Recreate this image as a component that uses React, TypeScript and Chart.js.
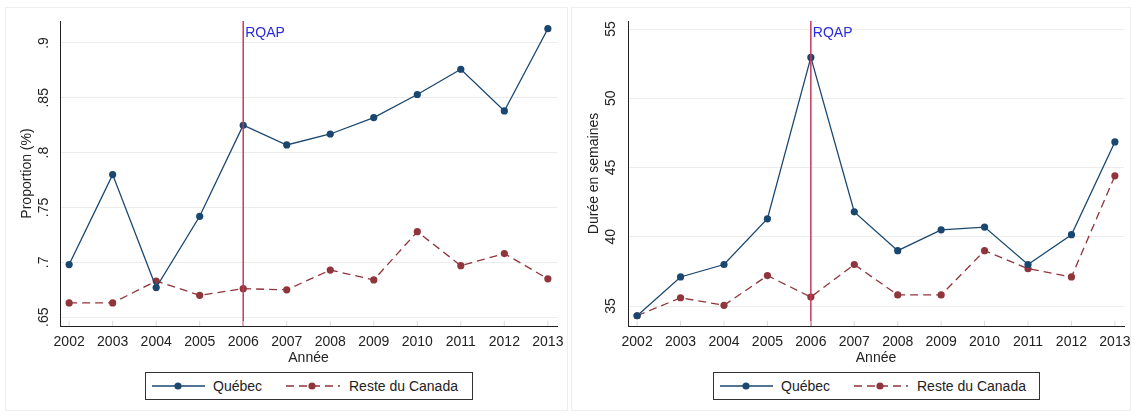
import React, { useEffect, useRef } from "react";
import { Chart, registerables } from "chart.js";

Chart.register(...registerables);

const years = [2002, 2003, 2004, 2005, 2006, 2007, 2008, 2009, 2010, 2011, 2012, 2013];
const quebecProp = [0.698, 0.78, 0.677, 0.742, 0.825, 0.807, 0.817, 0.832, 0.853, 0.876, 0.838, 0.913];
const resteProp = [0.663, 0.663, 0.683, 0.67, 0.676, 0.675, 0.693, 0.684, 0.728, 0.697, 0.708, 0.685];
const quebecDur = [34.3, 37.1, 38.0, 41.3, 52.95, 41.8, 39.0, 40.5, 40.7, 38.0, 40.15, 46.85];
const resteDur = [34.3, 35.6, 35.05, 37.2, 35.65, 38.0, 35.8, 35.8, 39.0, 37.7, 37.1, 44.4];
const propTicks = [0.65, 0.7, 0.75, 0.8, 0.85, 0.9];
const propTickLabels = [".65", ".7", ".75", ".8", ".85", ".9"];
const durTicks = [35, 40, 45, 50, 55];
const durTickLabels = ["35", "40", "45", "50", "55"];
const seriesNames = ["Québec", "Reste du Canada"];
const policyYear = 2006;
const policyLabel = "RQAP";
const xTitle = "Année";

const NAVY = "#1a476f";
const MAROON = "#90353b";
const VLINE = "#c8385a";
const FONT = '"Liberation Sans", Arial, sans-serif';

type PanelProps = {
  left: number;
  width: number;
  q: number[];
  r: number[];
  ticks: number[];
  tickLabels: string[];
  yMin: number;
  yMax: number;
  yTitle: string;
  axisW: number;
  padRight: number;
  tickX: number;
  titleX: number;
  legendLeft: number;
  legendW: number;
};

function Panel(p: PanelProps) {
  const ref = useRef<HTMLCanvasElement>(null);
  const canvasH = 358;
  useEffect(() => {
    const annot = {
      id: "annot",
      afterDraw(chart: any) {
        const ctx = chart.ctx;
        const xs = chart.scales.x;
        const ys = chart.scales.y;
        const area = chart.chartArea;
        ctx.save();
        // vertical policy line
        const vx = xs.getPixelForValue(policyYear);
        ctx.strokeStyle = VLINE;
        ctx.lineWidth = 1.5;
        ctx.beginPath();
        ctx.moveTo(vx, area.top);
        ctx.lineTo(vx, area.bottom);
        ctx.stroke();
        ctx.fillStyle = "#2a2ae0";
        ctx.font = `14px ${FONT}`;
        ctx.textAlign = "left";
        ctx.textBaseline = "middle";
        ctx.fillText(policyLabel, vx + 2, area.top + 12);
        // x ticks and labels
        ctx.fillStyle = "#222";
        ctx.textAlign = "center";
        years.forEach((yv) => {
          const x = xs.getPixelForValue(yv);
          ctx.strokeStyle = "#dcdcdc";
          ctx.lineWidth = 1;
          ctx.beginPath();
          ctx.moveTo(x, area.bottom - 5);
          ctx.lineTo(x, area.bottom);
          ctx.stroke();
          ctx.fillText(String(yv), x, area.bottom + 16);
        });
        ctx.fillText(xTitle, (area.left + area.right) / 2, area.bottom + 32);
        // y tick labels rotated
        p.ticks.forEach((t, i) => {
          const y = ys.getPixelForValue(t);
          ctx.save();
          ctx.translate(p.tickX, y);
          ctx.rotate(-Math.PI / 2);
          ctx.textAlign = "center";
          ctx.textBaseline = "middle";
          ctx.fillText(p.tickLabels[i], 0, 0);
          ctx.restore();
        });
        ctx.save();
        ctx.translate(p.titleX, (area.top + area.bottom) / 2);
        ctx.rotate(-Math.PI / 2);
        ctx.textAlign = "center";
        ctx.textBaseline = "middle";
        ctx.fillText(p.yTitle, 0, 0);
        ctx.restore();
        ctx.restore();
      },
    };
    const chart = new Chart(ref.current as HTMLCanvasElement, {
      type: "line",
      data: {
        datasets: [
          {
            label: seriesNames[0],
            data: years.map((x, i) => ({ x, y: p.q[i] })),
            borderColor: NAVY,
            backgroundColor: NAVY,
            borderWidth: 1.3,
            pointRadius: 3.6,
            pointBorderWidth: 0,
            tension: 0,
          },
          {
            label: seriesNames[1],
            data: years.map((x, i) => ({ x, y: p.r[i] })),
            borderColor: MAROON,
            backgroundColor: MAROON,
            borderWidth: 1.3,
            borderDash: [8, 5],
            pointRadius: 3.6,
            pointBorderWidth: 0,
            tension: 0,
          },
        ],
      },
      options: {
        responsive: false,
        animation: false,
        layout: { autoPadding: false, padding: { top: 14, right: p.padRight, left: 0, bottom: 0 } },
        plugins: { legend: { display: false }, tooltip: { enabled: false } },
        scales: {
          x: {
            type: "linear",
            min: 2001.79,
            max: 2013.21,
            grid: { display: false },
            border: { display: true, color: "#222", width: 1 },
            ticks: { display: false },
            afterFit: (s: any) => {
              s.height = 39;
            },
          },
          y: {
            type: "linear",
            min: p.yMin,
            max: p.yMax,
            grid: { color: "#ececec", lineWidth: 1, drawTicks: false },
            border: { display: true, color: "#222", width: 1 },
            ticks: { display: false },
            afterBuildTicks: (s: any) => {
              s.ticks = p.ticks.map((v) => ({ value: v }));
            },
            afterFit: (s: any) => {
              s.width = p.axisW;
            },
          },
        },
      } as any,
      plugins: [annot],
    });
    return () => chart.destroy();
  }, []);

  return (
    <div
      style={{
        position: "absolute",
        left: p.left,
        top: 7,
        width: p.width,
        height: 404,
        border: "1px solid #eceef0",
        boxSizing: "border-box",
        background: "#fff",
      }}
    >
      <canvas
        ref={ref}
        width={p.width}
        height={canvasH}
        style={{ position: "absolute", left: -1, top: -1, width: p.width, height: canvasH }}
      />
      <div
        style={{
          position: "absolute",
          left: p.legendLeft,
          top: 364,
          width: p.legendW,
          height: 28,
          border: "1px solid #333",
          boxSizing: "border-box",
        }}
      >
        <svg width={p.legendW - 2} height={26} style={{ position: "absolute", left: 0, top: 0 }}>
          <line x1={6} y1={13} x2={59} y2={13} stroke={NAVY} strokeWidth={1.3} />
          <circle cx={32} cy={13} r={3.6} fill={NAVY} />
          <text x={67} y={18} fontFamily={FONT} fontSize={14} fill="#222">
            {seriesNames[0]}
          </text>
          <line x1={140} y1={13} x2={194} y2={13} stroke={MAROON} strokeWidth={1.3} strokeDasharray="8 5" />
          <circle cx={166} cy={13} r={3.6} fill={MAROON} />
          <text x={203} y={18} fontFamily={FONT} fontSize={14} fill="#222">
            {seriesNames[1]}
          </text>
        </svg>
      </div>
    </div>
  );
}

export default function App() {
  return (
    <div style={{ position: "absolute", left: 0, top: 0, width: 1135, height: 415, background: "#fff" }}>
      <Panel
        left={5}
        width={563}
        q={quebecProp}
        r={resteProp}
        ticks={propTicks}
        tickLabels={propTickLabels}
        yMin={0.642}
        yMax={0.92}
        yTitle="Proportion (%)"
        axisW={55}
        padRight={11}
        tickX={39}
        titleX={22}
        legendLeft={139}
        legendW={328}
      />
      <Panel
        left={571}
        width={560}
        q={quebecDur}
        r={resteDur}
        ticks={durTicks}
        tickLabels={durTickLabels}
        yMin={33.56}
        yMax={55.58}
        yTitle="Durée en semaines"
        axisW={57}
        padRight={7}
        tickX={40}
        titleX={23}
        legendLeft={141}
        legendW={327}
      />
    </div>
  );
}
